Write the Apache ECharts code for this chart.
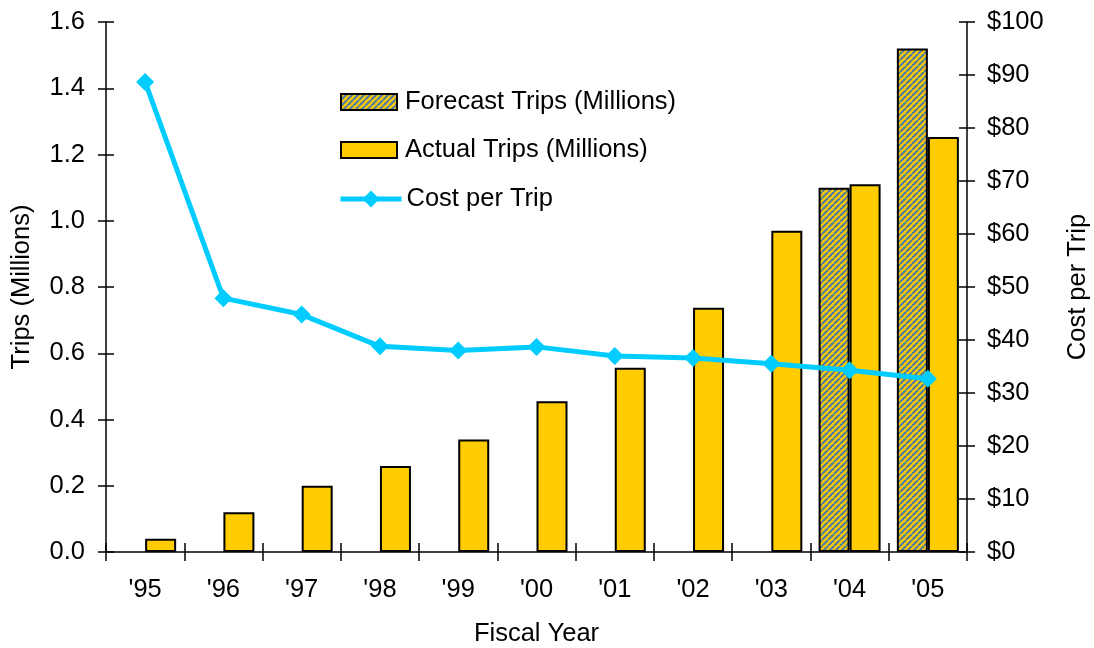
<!DOCTYPE html>
<html><head><meta charset="utf-8">
<script src="https://cdn.jsdelivr.net/npm/echarts@6/dist/echarts.min.js"></script>
<style>html,body{margin:0;padding:0;background:#fff}#c{width:1094px;height:648px}</style>
</head><body><div id="c"></div>
<script>
const categories = ["'95","'96","'97","'98","'99","'00","'01","'02","'03","'04","'05"];
const forecastTrips = [null,null,null,null,null,null,null,null,null,1.10,1.52];
const actualTrips = [0.04,0.12,0.20,0.26,0.34,0.455,0.556,0.737,0.97,1.11,1.253];
const costPerTrip = [88.7,47.9,44.8,38.8,38.0,38.7,37.0,36.6,35.5,34.3,32.7];

function hatch(){
  const s = 6, c = document.createElement('canvas');
  c.width = s; c.height = s;
  const g = c.getContext('2d');
  g.fillStyle = '#FFCC00'; g.fillRect(0,0,s,s);
  g.strokeStyle = '#4F7CA0'; g.lineWidth = 2.1;
  for (let i = -s; i <= s; i += s) {
    g.beginPath(); g.moveTo(i, s); g.lineTo(i + s, 0); g.stroke();
  }
  return {image: c, repeat: 'repeat'};
}
const font = 'Liberation Sans, Arial, sans-serif';
const FS = 25.5;
const lbl = {fontFamily: font, fontSize: FS, color: '#000'};
const chart = echarts.init(document.getElementById('c'));
const axisLine = {show: true, lineStyle: {color: '#000', width: 1.5}};
const tick = (inside) => ({show: true, inside: inside, length: 8, lineStyle: {color: '#000', width: 1.5}});
const gridRect = {left: 106, right: 127, top: 22, bottom: 96, containLabel: false, outerBoundsMode: 'none'};
const legendText = {fontFamily: font, fontSize: FS, color: '#000', lineHeight: 26, padding: [0, 0, 0, 3]};
chart.setOption({
  animation: false,
  grid: [Object.assign({}, gridRect), Object.assign({}, gridRect)],
  legend: [{
    left: 335, top: 84, itemWidth: 56, itemHeight: 16, icon: 'rect',
    textStyle: legendText, data: ['Forecast Trips (Millions)']
  }, {
    left: 335, top: 132, itemWidth: 56, itemHeight: 16, icon: 'rect',
    textStyle: legendText, data: ['Actual Trips (Millions)']
  }, {
    left: 333, top: 181, itemWidth: 61, itemHeight: 21,
    lineStyle: {width: 5}, textStyle: Object.assign({}, legendText, {padding: [0,0,0,0]}),
    data: ['Cost per Trip']
  }],
  xAxis: [{
    gridIndex: 0, type: 'category', data: categories, boundaryGap: true,
    axisLine: axisLine, axisTick: Object.assign(tick(false), {length: 9}),
    axisLabel: Object.assign({margin: 25}, lbl),
    name: 'Fiscal Year', nameLocation: 'middle', nameGap: 69,
    nameTextStyle: lbl
  }, {
    gridIndex: 1, type: 'category', data: categories, boundaryGap: true,
    axisLine: {show: false}, axisTick: Object.assign(tick(true), {length: 9}),
    axisLabel: {show: false}
  }],
  yAxis: [{
    gridIndex: 0, type: 'value', min: 0, max: 1.6, interval: 0.2, position: 'left',
    axisLine: axisLine, axisTick: tick(false), splitLine: {show: false},
    axisLabel: Object.assign({margin: 21, formatter: v => v.toFixed(1)}, lbl),
    name: 'Trips (Millions)', nameLocation: 'middle', nameGap: 71,
    nameTextStyle: lbl
  }, {
    gridIndex: 0, type: 'value', min: 0, max: 100, interval: 10, position: 'right',
    axisLine: axisLine, axisTick: tick(false), splitLine: {show: false},
    axisLabel: Object.assign({margin: 20, formatter: v => '$' + v}, lbl),
    name: 'Cost per Trip', nameLocation: 'middle', nameGap: 98,
    nameTextStyle: lbl
  }, {
    gridIndex: 1, type: 'value', min: 0, max: 1.6, interval: 0.2, position: 'left',
    axisLine: {show: false}, splitLine: {show: false}, axisLabel: {show: false},
    axisTick: tick(true)
  }, {
    gridIndex: 1, type: 'value', min: 0, max: 100, interval: 10, position: 'right',
    axisLine: {show: false}, splitLine: {show: false}, axisLabel: {show: false},
    axisTick: tick(true)
  }],
  series: [{
    name: 'Forecast Trips (Millions)', type: 'bar', data: forecastTrips,
    xAxisIndex: 0, yAxisIndex: 0, barWidth: 31, barGap: '0%',
    itemStyle: {color: hatch(), borderColor: '#000', borderWidth: 2}
  }, {
    name: 'Actual Trips (Millions)', type: 'bar', data: actualTrips,
    xAxisIndex: 0, yAxisIndex: 0, barWidth: 31, barGap: '0%',
    itemStyle: {color: '#FFCC00', borderColor: '#000', borderWidth: 2}
  }, {
    name: 'Cost per Trip', type: 'line', data: costPerTrip,
    xAxisIndex: 0, yAxisIndex: 1, symbol: 'diamond', symbolSize: 18,
    lineStyle: {color: '#00CCFF', width: 5},
    itemStyle: {color: '#00CCFF'}, z: 5
  }]
});
</script></body></html>
